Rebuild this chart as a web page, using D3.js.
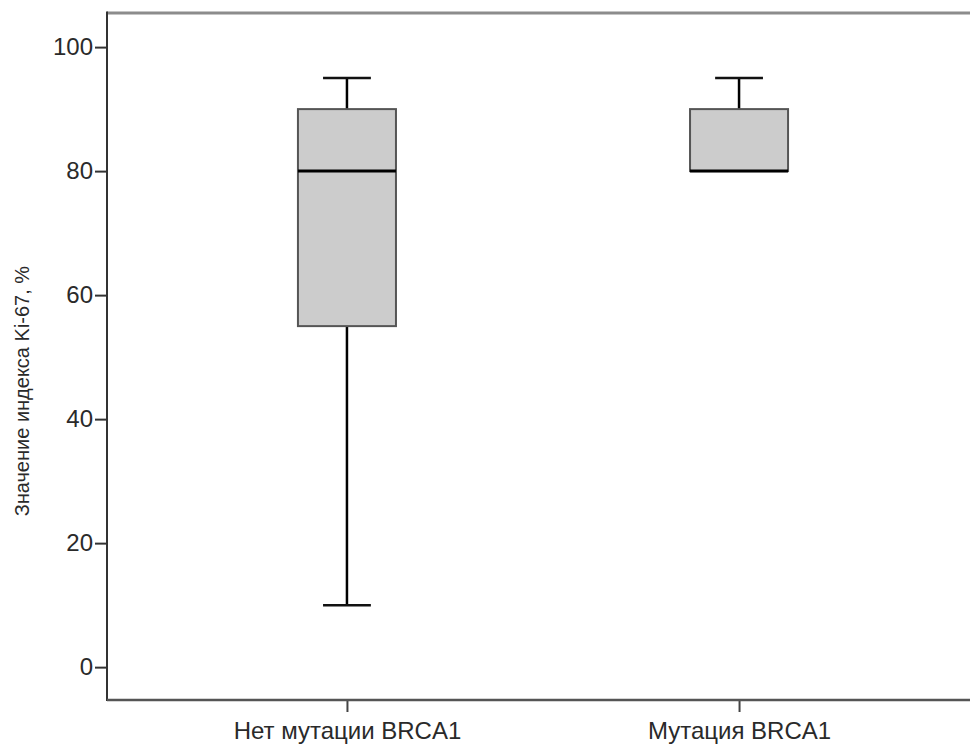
<!DOCTYPE html>
<html>
<head>
<meta charset="utf-8">
<script src="https://cdn.jsdelivr.net/npm/d3@7"></script>
<style>
  html, body { margin: 0; padding: 0; background: #fff; }
  svg { display: block; font-family: "Liberation Sans", Arial, sans-serif; }
</style>
</head>
<body>
<svg id="chart" width="970" height="744"></svg>
<script>
// Ki-67 index by BRCA1 mutation status (five-number summaries)
const categories = ["Нет мутации BRCA1", "Мутация BRCA1"];
const mins    = [10, 80];
const q1s     = [55, 80];
const medians = [80, 80];
const q3s     = [90, 90];
const maxs    = [95, 95];
const yTicks  = [0, 20, 40, 60, 80, 100];
const yLabel  = "Значение индекса Ki-67, %";

const svg = d3.select("#chart");
const W = 970, H = 744;
const plot = { left: 107, top: 13, right: 979, bottom: 700 };

const x = d3.scalePoint()
  .domain(categories)
  .range([plot.left, plot.right])
  .padding(0.612);

const y = d3.scaleLinear()
  .domain([-5.3, 105.5])
  .range([plot.bottom, plot.top]);

const step = x.step();
const boxW = step * 0.25;
const capW = step * 0.122;

// top frame line
svg.append("line")
  .attr("x1", plot.left).attr("x2", W)
  .attr("y1", plot.top).attr("y2", plot.top)
  .attr("stroke", "#8c8c8c").attr("stroke-width", 3);

// y axis
const yAxis = svg.append("g")
  .attr("transform", `translate(${plot.left},0)`)
  .call(d3.axisLeft(y).tickValues(yTicks).tickSize(12).tickPadding(2).tickSizeOuter(0));
yAxis.select(".domain").remove();
yAxis.selectAll(".tick line").attr("stroke", "#333").attr("stroke-width", 2);
yAxis.selectAll(".tick text")
  .attr("fill", "#2a2a2a").style("font-size", "24px")
  .style("font-family", "'Liberation Sans', Arial, sans-serif");
svg.append("line")
  .attr("x1", plot.left).attr("x2", plot.left)
  .attr("y1", plot.top - 1.5).attr("y2", plot.bottom + 1)
  .attr("stroke", "#333").attr("stroke-width", 2);

// x axis
const xAxis = svg.append("g")
  .attr("transform", `translate(0,${plot.bottom})`)
  .call(d3.axisBottom(x).tickSize(12).tickPadding(10).tickSizeOuter(0));
xAxis.select(".domain").remove();
xAxis.selectAll(".tick line").attr("stroke", "#444").attr("stroke-width", 2);
xAxis.selectAll(".tick text")
  .attr("fill", "#2a2a2a").style("font-size", "24px")
  .style("font-family", "'Liberation Sans', Arial, sans-serif");
svg.append("line")
  .attr("x1", plot.left).attr("x2", W)
  .attr("y1", plot.bottom).attr("y2", plot.bottom)
  .attr("stroke", "#555").attr("stroke-width", 2.5);

// y axis title
svg.append("text")
  .attr("transform", `translate(29,${(y(0) + y(100)) / 2 + 34}) rotate(-90)`)
  .attr("text-anchor", "middle")
  .attr("fill", "#2a2a2a")
  .style("font-size", "20px")
  .text(yLabel);

// boxes
const data = categories.map((c, i) => ({
  cat: c, min: mins[i], q1: q1s[i], med: medians[i], q3: q3s[i], max: maxs[i]
}));

const g = svg.append("g");
data.forEach(d => {
  const cx = x(d.cat);
  // upper whisker
  if (d.max > d.q3) {
    g.append("line").attr("x1", cx).attr("x2", cx)
      .attr("y1", y(d.q3)).attr("y2", y(d.max))
      .attr("stroke", "#000").attr("stroke-width", 2.5);
    g.append("line").attr("x1", cx - capW / 2).attr("x2", cx + capW / 2)
      .attr("y1", y(d.max)).attr("y2", y(d.max))
      .attr("stroke", "#111").attr("stroke-width", 2.5);
  }
  // lower whisker
  if (d.min < d.q1) {
    g.append("line").attr("x1", cx).attr("x2", cx)
      .attr("y1", y(d.q1)).attr("y2", y(d.min))
      .attr("stroke", "#000").attr("stroke-width", 2.5);
    g.append("line").attr("x1", cx - capW / 2).attr("x2", cx + capW / 2)
      .attr("y1", y(d.min)).attr("y2", y(d.min))
      .attr("stroke", "#111").attr("stroke-width", 2.5);
  }
  // box
  g.append("rect")
    .attr("x", cx - boxW / 2).attr("width", boxW)
    .attr("y", y(d.q3)).attr("height", y(d.q1) - y(d.q3))
    .attr("fill", "#cccccc").attr("stroke", "#555").attr("stroke-width", 2);
  // median
  g.append("line").attr("x1", cx - boxW / 2).attr("x2", cx + boxW / 2)
    .attr("y1", y(d.med)).attr("y2", y(d.med))
    .attr("stroke", "#000").attr("stroke-width", 3);
});
</script>
</body>
</html>
